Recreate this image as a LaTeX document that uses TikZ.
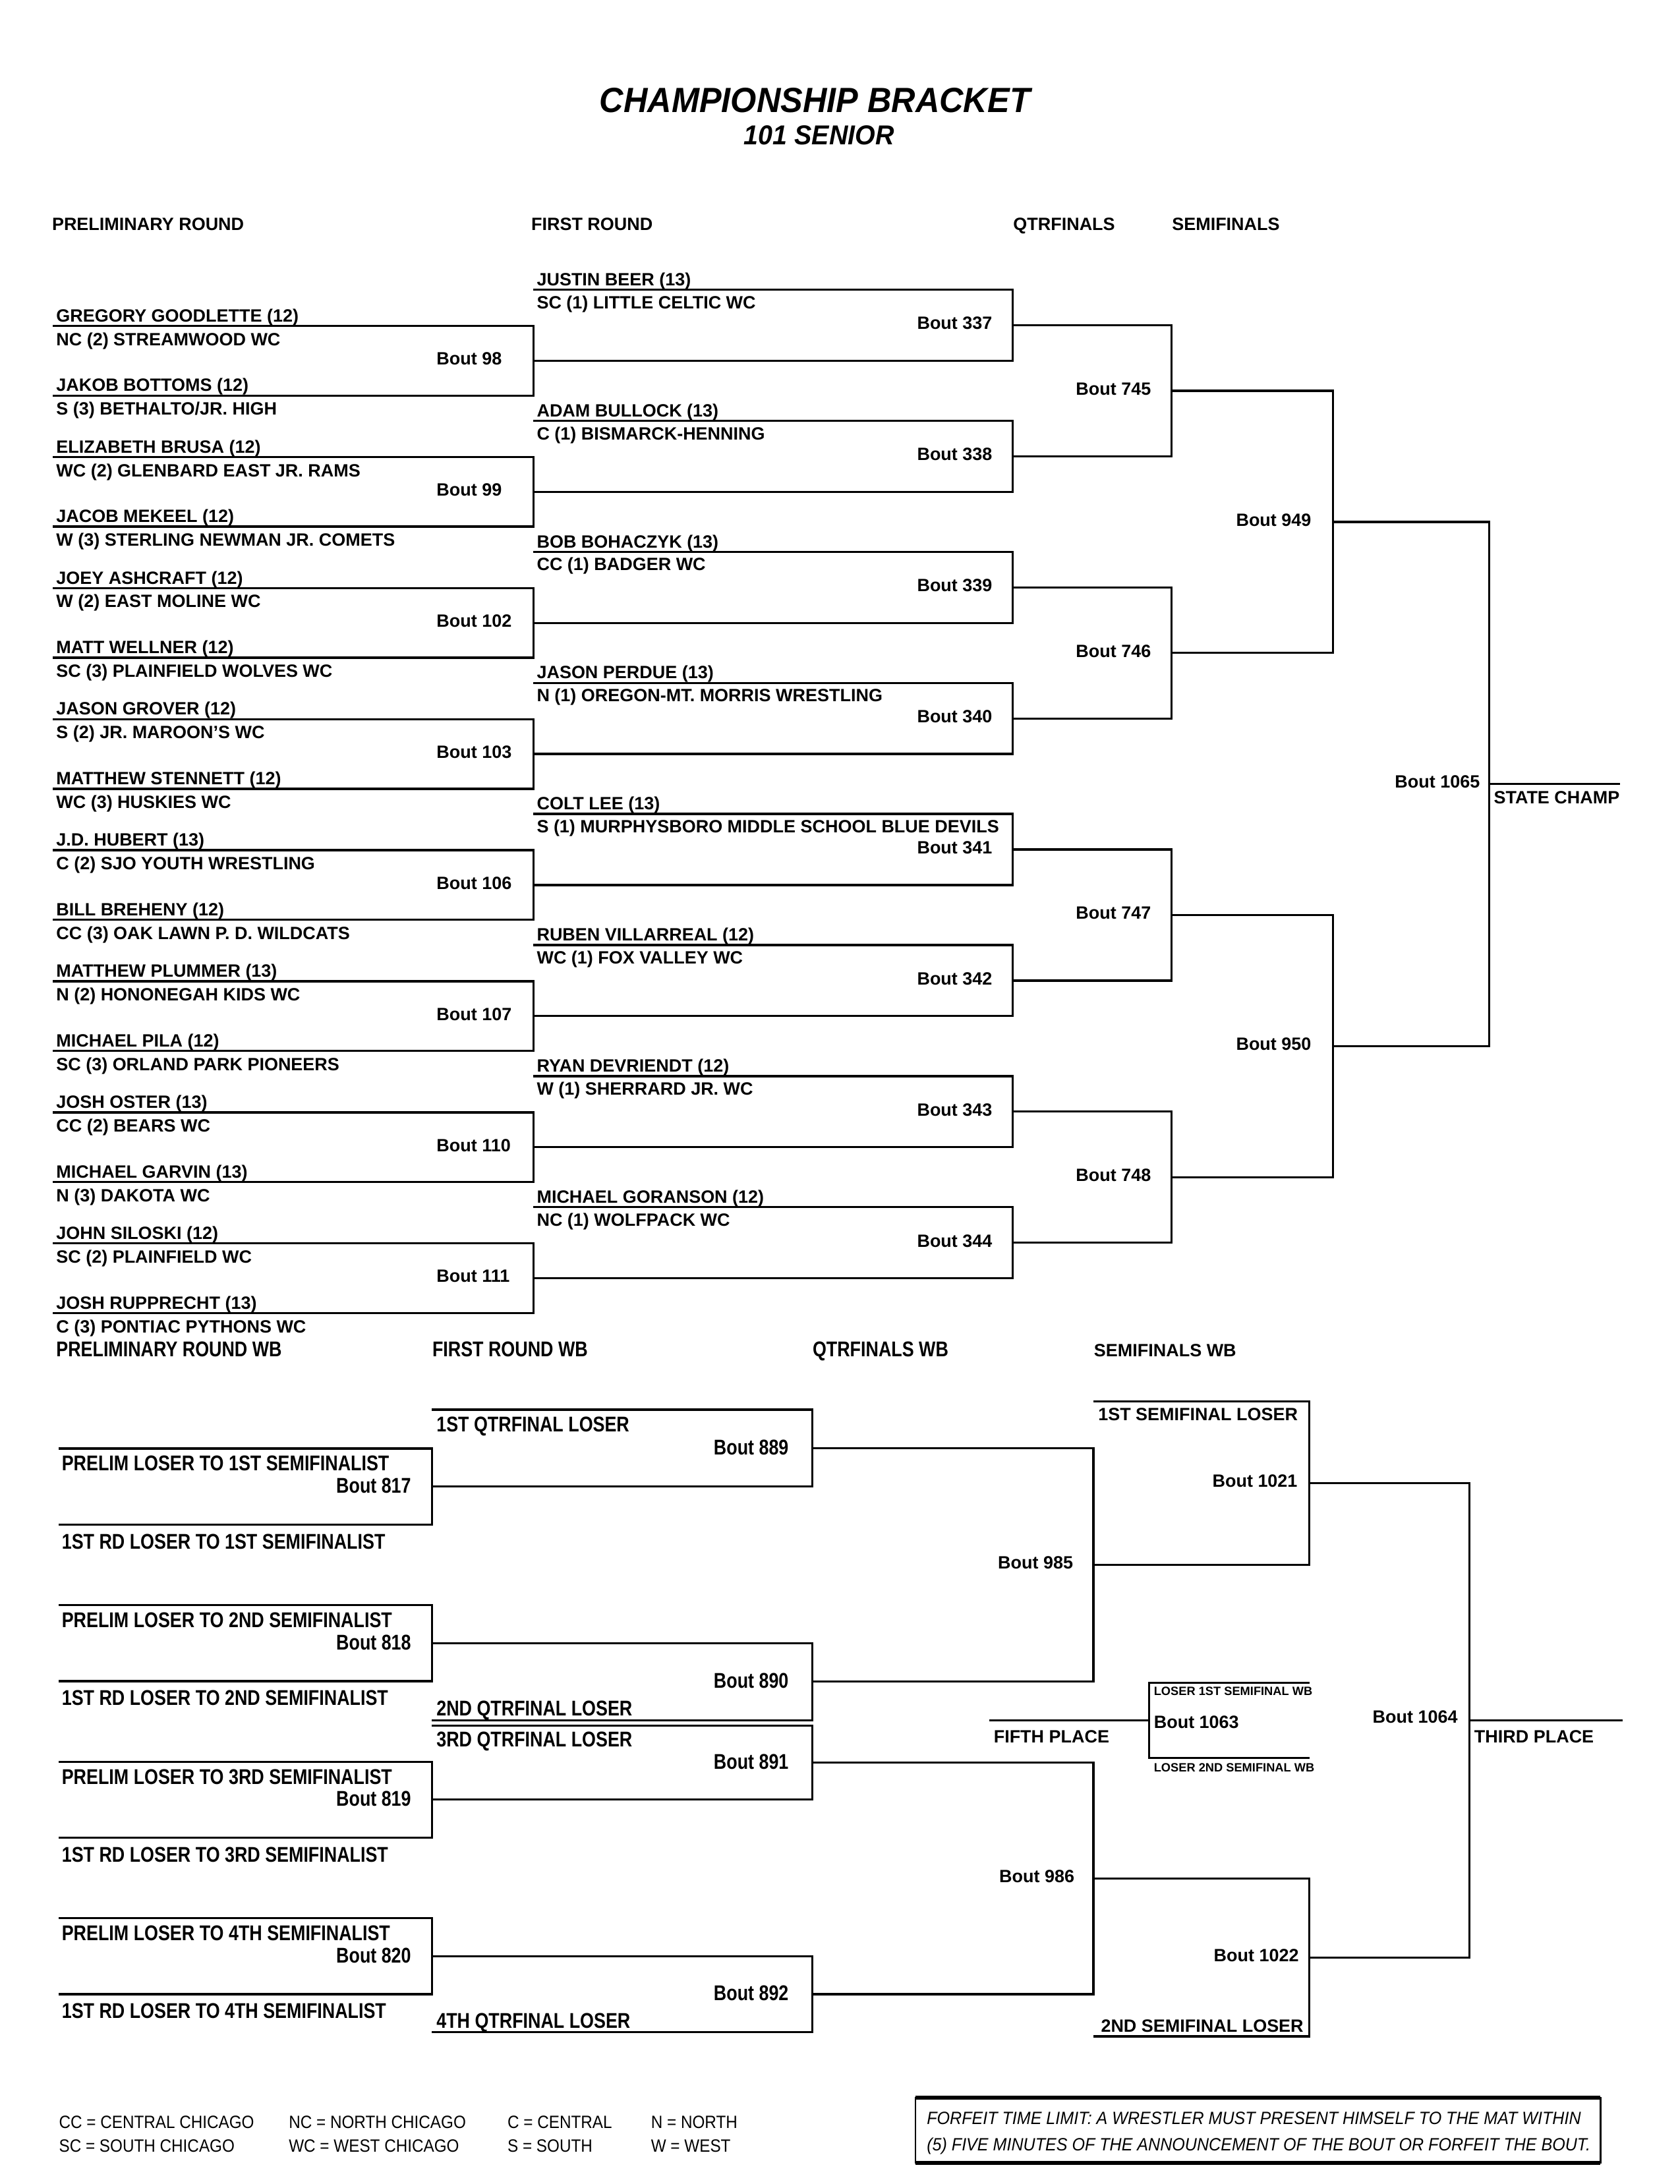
\documentclass[tikz,border=0pt]{standalone}
\usepackage{fontspec}
\usepackage{tikz}
\usetikzlibrary{positioning}
\setmainfont{Liberation Sans}
\newfontfamily\narrowfont[FakeStretch=0.83]{Liberation Sans}
\newfontfamily\titlefont[FakeStretch=0.95]{Liberation Sans}
\newfontfamily\keyfont[FakeStretch=0.9]{Liberation Sans}
\newfontfamily\notefont[FakeStretch=0.93]{Liberation Sans}

\begin{document}
\begin{tikzpicture}[x=0.17902mm, y=-0.17902mm,
  ln/.style={line width=0.8pt},
  nm/.style={anchor=base west, inner sep=0pt, font=\bfseries\fontsize{6.5}{7}\selectfont},
  nar/.style={anchor=base west, inner sep=0pt, font=\narrowfont\bfseries\fontsize{7.8}{9}\selectfont},
  tinylbl/.style={anchor=base west, inner sep=0pt, font=\bfseries\fontsize{4.4}{5}\selectfont},
  key/.style={anchor=base west, inner sep=0pt, font=\keyfont\fontsize{6.5}{7}\selectfont},
  ffs/.style={anchor=base west, inner sep=0pt, font=\notefont\itshape\fontsize{6.5}{7}\selectfont},
]
\useasboundingbox (0,0) rectangle (1206,1568);

% title
\node[font=\titlefont\bfseries\itshape\fontsize{12.8}{14}\selectfont] (title) at (585,72) {CHAMPIONSHIP BRACKET};
\node[font=\titlefont\bfseries\itshape\fontsize{10}{12}\selectfont] (sub) at (588,97) {101 SENIOR};

% round headers
\node[nm] (hpr) at (37,165.5) {PRELIMINARY ROUND};
\node[nm] (hfr) at (381,165.5) {FIRST ROUND};
\node[nm] (hqf) at (727,165.5) {QTRFINALS};
\node[nm] (hsf) at (841,165.5) {SEMIFINALS};

% preliminary round
\foreach \i/\bn/\na/\sa/\nb/\sb in {
  0/98/{GREGORY GOODLETTE (12)}/{NC (2) STREAMWOOD WC}/{JAKOB BOTTOMS (12)}/{S (3) BETHALTO/JR. HIGH},
  1/99/{ELIZABETH BRUSA (12)}/{WC (2) GLENBARD EAST JR. RAMS}/{JACOB MEKEEL (12)}/{W (3) STERLING NEWMAN JR. COMETS},
  2/102/{JOEY ASHCRAFT (12)}/{W (2) EAST MOLINE WC}/{MATT WELLNER (12)}/{SC (3) PLAINFIELD WOLVES WC},
  3/103/{JASON GROVER (12)}/{S (2) JR. MAROON'S WC}/{MATTHEW STENNETT (12)}/{WC (3) HUSKIES WC},
  4/106/{J.D. HUBERT (13)}/{C (2) SJO YOUTH WRESTLING}/{BILL BREHENY (12)}/{CC (3) OAK LAWN P. D. WILDCATS},
  5/107/{MATTHEW PLUMMER (13)}/{N (2) HONONEGAH KIDS WC}/{MICHAEL PILA (12)}/{SC (3) ORLAND PARK PIONEERS},
  6/110/{JOSH OSTER (13)}/{CC (2) BEARS WC}/{MICHAEL GARVIN (13)}/{N (3) DAKOTA WC},
  7/111/{JOHN SILOSKI (12)}/{SC (2) PLAINFIELD WC}/{JOSH RUPPRECHT (13)}/{C (3) PONTIAC PYTHONS WC}}{
  \pgfmathsetmacro\tp{234+94.1*\i}
  \coordinate (pa\i) at (38,\tp);
  \coordinate (pb\i) at (38,\tp+50);
  \coordinate (pm\i) at (383,\tp+25);
  \draw[ln] (pa\i) -| (pm\i) |- (pb\i);
  \node[nm] (na\i) at (40,\tp-3) {\na};
  \node[nm] (sa\i) at (40,\tp+14) {\sa};
  \node[nm] (nb\i) at (40,\tp+47) {\nb};
  \node[nm] (sb\i) at (40,\tp+64) {\sb};
  \node[nm] (bp\i) at (313,\tp+28) {Bout \bn};
}

% first round
\foreach \i/\bn/\fn/\fs in {
  0/337/{JUSTIN BEER (13)}/{SC (1) LITTLE CELTIC WC},
  1/338/{ADAM BULLOCK (13)}/{C (1) BISMARCK-HENNING},
  2/339/{BOB BOHACZYK (13)}/{CC (1) BADGER WC},
  3/340/{JASON PERDUE (13)}/{N (1) OREGON-MT. MORRIS WRESTLING},
  4/341/{COLT LEE (13)}/{S (1) MURPHYSBORO MIDDLE SCHOOL BLUE DEVILS},
  5/342/{RUBEN VILLARREAL (12)}/{WC (1) FOX VALLEY WC},
  6/343/{RYAN DEVRIENDT (12)}/{W (1) SHERRARD JR. WC},
  7/344/{MICHAEL GORANSON (12)}/{NC (1) WOLFPACK WC}}{
  \pgfmathsetmacro\tp{234+94.1*\i}
  \coordinate (fa\i) at (383,\tp-26);
  \coordinate (fm\i) at (727,\tp-0.5);
  \draw[ln] (fa\i) -| (fm\i) |- (pm\i);
  \node[nm] (fn\i) at (385,\tp-29) {\fn};
  \node[nm] (fs\i) at (385,\tp-12.5) {\fs};
  \node[nm] (bf\i) at (658,\tp+2.5) {Bout \bn};
}

% quarterfinals
\foreach \j/\bn in {0/745,1/746,2/747,3/748}{
  \pgfmathtruncatemacro\ia{2*\j}
  \pgfmathtruncatemacro\ib{2*\j+1}
  \pgfmathsetmacro\yy{280.55+188.2*\j}
  \coordinate (qm\j) at (841,\yy);
  \draw[ln] (fm\ia) -| (qm\j) |- (fm\ib);
  \node[nm] (bq\j) at (772,\yy+3) {Bout \bn};
}

% semifinals
\foreach \k/\bn in {0/949,1/950}{
  \pgfmathtruncatemacro\ia{2*\k}
  \pgfmathtruncatemacro\ib{2*\k+1}
  \pgfmathsetmacro\yy{374.65+376.4*\k}
  \coordinate (sm\k) at (957,\yy);
  \draw[ln] (qm\ia) -| (sm\k) |- (qm\ib);
  \node[nm] (bs\k) at (887,\yy+3) {Bout \bn};
}

% final
\coordinate (fin) at (1069,562.85);
\coordinate (champ) at (1163,562.85);
\draw[ln] (sm0) -| (fin) |- (sm1);
\draw[ln] (fin) -- (champ);
\node[nm] (b1065) at (1001,565.5) {Bout 1065};
\node[nm] (champlbl) at (1072,577) {STATE CHAMP};

% wrestleback headers
\node[nar] (hprw) at (40,974) {PRELIMINARY ROUND WB};
\node[nar] (hfrw) at (310,974) {FIRST ROUND WB};
\node[nar] (hqfw) at (583,974) {QTRFINALS WB};
\node[nm] (hsfw) at (785,974) {SEMIFINALS WB};

% preliminary round wb
\foreach \i/\bn/\ord in {0/817/1ST,1/818/2ND,2/819/3RD,3/820/4TH}{
  \pgfmathsetmacro\ww{1040+112.4*\i}
  \coordinate (wa\i) at (42,\ww);
  \coordinate (wz\i) at (42,\ww+54.5);
  \coordinate (wm\i) at (310,\ww+27.25);
  \draw[ln] (wa\i) -| (wm\i) |- (wz\i);
  \node[nar] (wp\i) at (44,\ww+16) {PRELIM LOSER TO \ord\ SEMIFINALIST};
  \node[nar] (wr\i) at (44,\ww+72) {1ST RD LOSER TO \ord\ SEMIFINALIST};
  \node[nar] (bw\i) at (241,\ww+32) {Bout \bn};
}

% first round wb
\coordinate (ra0) at (310,1012);  \coordinate (rm0) at (583,1039.6);
\coordinate (rb1) at (310,1235);  \coordinate (rm1) at (583,1207.3);
\coordinate (ra2) at (310,1239);  \coordinate (rm2) at (583,1265.5);
\coordinate (rb3) at (310,1459);  \coordinate (rm3) at (583,1431.7);
\draw[ln] (ra0) -| (rm0) |- (wm0);
\draw[ln] (wm1) -| (rm1) |- (rb1);
\draw[ln] (ra2) -| (rm2) |- (wm2);
\draw[ln] (wm3) -| (rm3) |- (rb3);
\node[nar] (ql1) at (313,1028) {1ST QTRFINAL LOSER};
\node[nar] (ql2) at (313,1232) {2ND QTRFINAL LOSER};
\node[nar] (ql3) at (313,1254) {3RD QTRFINAL LOSER};
\node[nar] (ql4) at (313,1456) {4TH QTRFINAL LOSER};
\node[nar] (b889) at (512,1044.6) {Bout 889};
\node[nar] (b890) at (512,1212) {Bout 890};
\node[nar] (b891) at (512,1270) {Bout 891};
\node[nar] (b892) at (512,1436) {Bout 892};

% quarterfinals wb
\coordinate (qw0) at (785,1123.45);
\coordinate (qw1) at (785,1348.6);
\draw[ln] (rm0) -| (qw0) |- (rm1);
\draw[ln] (rm2) -| (qw1) |- (rm3);
\node[nm] (b985) at (716,1126.5) {Bout 985};
\node[nm] (b986) at (717,1351.6) {Bout 986};

% semifinals wb
\coordinate (sa0) at (785,1006);  \coordinate (sw0) at (940,1064.7);
\coordinate (sb1) at (785,1462);  \coordinate (sw1) at (940,1405.3);
\draw[ln] (sa0) -| (sw0) |- (qw0);
\draw[ln] (qw1) -| (sw1) |- (sb1);
\node[nm] (sl1) at (788,1020) {1ST SEMIFINAL LOSER};
\node[nm] (sl2) at (790,1459) {2ND SEMIFINAL LOSER};
\node[nm] (b1021) at (870,1067.7) {Bout 1021};
\node[nm] (b1022) at (871,1408.3) {Bout 1022};

% third place
\coordinate (thr) at (1055,1235);
\coordinate (thrend) at (1165,1235);
\draw[ln] (sw0) -| (thr) |- (sw1);
\draw[ln] (thr) -- (thrend);
\node[nm] (b1064) at (985,1237) {Bout 1064};
\node[nm] (thirdlbl) at (1058,1251) {THIRD PLACE};

% fifth place
\coordinate (fifa) at (940,1208);
\coordinate (fifv) at (825,1235);
\coordinate (fifb) at (940,1262);
\coordinate (fifend) at (710,1235);
\draw[ln] (fifa) -| (fifv) |- (fifb);
\draw[ln] (fifv) -- (fifend);
\node[tinylbl] (lw1) at (828,1217) {LOSER 1ST SEMIFINAL WB};
\node[nm] (b1063) at (828,1241) {Bout 1063};
\node[tinylbl] (lw2) at (828,1272) {LOSER 2ND SEMIFINAL WB};
\node[nm] (fifthlbl) at (713,1251) {FIFTH PLACE};

% key
\node[key] (k1) at (42,1528) {CC = CENTRAL CHICAGO};
\node[key] (k2) at (207,1528) {NC = NORTH CHICAGO};
\node[key] (k3) at (364,1528) {C = CENTRAL};
\node[key] (k4) at (467,1528) {N = NORTH};
\node[key] (k5) at (42,1545) {SC = SOUTH CHICAGO};
\node[key] (k6) at (207,1545) {WC = WEST CHICAGO};
\node[key] (k7) at (364,1545) {S = SOUTH};
\node[key] (k8) at (467,1545) {W = WEST};

% forfeit note
\draw[line width=0.5pt] (657,1506) rectangle (1149,1553);
\draw[line width=1.4pt] (657,1506) -- (1149,1506);
\draw[line width=1.4pt] (657,1553) -- (1149,1553);
\node[ffs] (ff1) at (665,1525) {FORFEIT TIME LIMIT: A WRESTLER MUST PRESENT HIMSELF TO THE MAT WITHIN};
\node[ffs] (ff2) at (665,1544) {(5) FIVE MINUTES OF THE ANNOUNCEMENT OF THE BOUT OR FORFEIT THE BOUT.};
\end{tikzpicture}
\end{document}
